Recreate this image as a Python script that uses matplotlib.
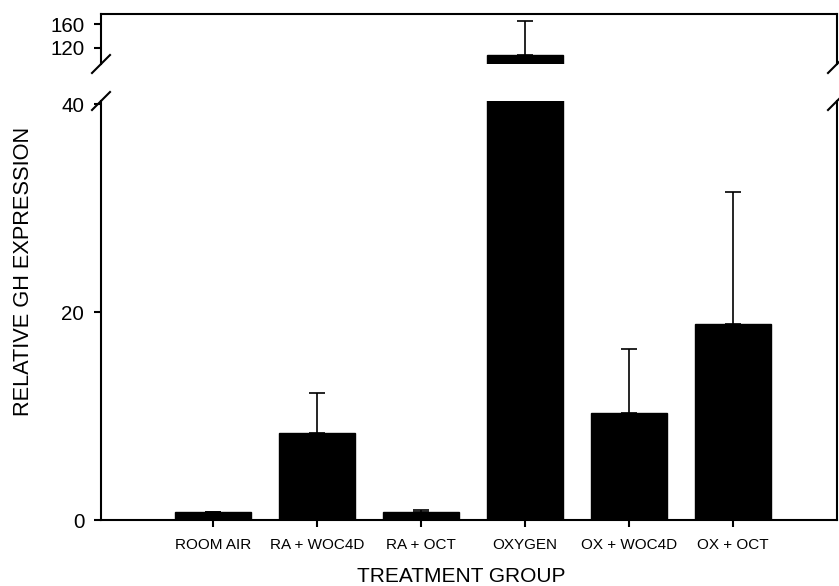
import numpy as np
import matplotlib
matplotlib.use("Agg")
import matplotlib.pyplot as plt
from matplotlib.lines import Line2D

plt.rcParams['font.family'] = ['Liberation Sans', 'DejaVu Sans']

groups = ['ROOM AIR', 'RA + WOC4D', 'RA + OCT', 'OXYGEN', 'OX + WOC4D', 'OX + OCT']
means = [0.74, 8.4, 0.8, 108.5, 10.26, 18.85]
errs = [0.0, 3.8, 0.2, 57.0, 6.2, 12.7]

W, H = 839, 586
fig = plt.figure(figsize=(W / 100, H / 100), dpi=100)

left_px, right_px = 101, 837
top_hi, bot_hi = 14, 64
top_lo, bot_lo = 101, 520

def fr(x0, y0, x1, y1):
    return [x0 / W, 1 - y1 / H, (x1 - x0) / W, (y1 - y0) / H]

ax_hi = fig.add_axes(fr(left_px, top_hi, right_px, bot_hi))
ax_lo = fig.add_axes(fr(left_px, top_lo, right_px, bot_lo))

x = np.arange(1, len(groups) + 1)
lower_err = np.zeros(len(errs))

for ax in (ax_hi, ax_lo):
    ax.bar(x, means, width=0.74, color='black', edgecolor='black')
    ax.errorbar(x, means, yerr=[lower_err, errs], fmt='none', ecolor='black',
                elinewidth=1.2, capsize=5.5, capthick=1.2)
    ax.set_xlim(-0.077, 7.0)
    for s in ax.spines.values():
        s.set_linewidth(1.5)
    ax.tick_params(direction='out', length=5, width=1.5, labelsize=14.8, pad=7)

ax_hi.set_ylim(93, 177)
ax_hi.set_yticks([120, 160])
ax_hi.spines['bottom'].set_visible(False)
ax_hi.set_xticks([])

ax_lo.set_ylim(0, 40.3)
ax_lo.set_yticks([0, 20, 40])
ax_lo.spines['top'].set_visible(False)
ax_lo.set_xticks(x)
ax_lo.set_xticklabels(groups, fontsize=11)
ax_lo.tick_params(axis='x', pad=8)

fig.text(461 / W, 1 - 577 / H, 'TREATMENT GROUP', fontsize=15,
         ha='center', va='center')
fig.text(24 / W, 1 - 271 / H, 'RELATIVE GH EXPRESSION', rotation=90,
         fontsize=15.7, ha='center', va='center')

# break marks
for yb in (bot_hi, top_lo):
    for xb in (left_px, right_px):
        fig.add_artist(Line2D([(xb - 9) / W, (xb + 9) / W],
                              [1 - (yb + 9) / H, 1 - (yb - 9) / H],
                              color='black', lw=1.5))

fig.savefig('out.png', dpi=100)
